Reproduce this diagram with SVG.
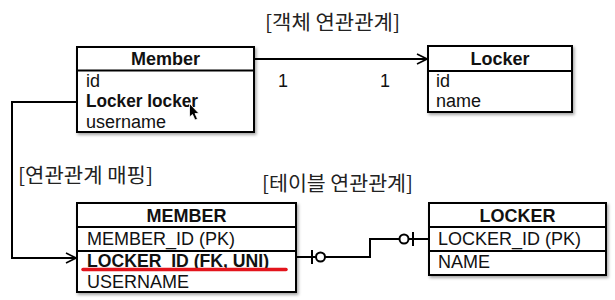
<svg xmlns="http://www.w3.org/2000/svg" width="615" height="300" viewBox="0 0 615 300">
<defs>
<filter id="sh" x="-10%" y="-10%" width="130%" height="130%">
<feDropShadow dx="1.5" dy="2" stdDeviation="1.5" flood-color="#000" flood-opacity="0.35"/>
</filter>
<marker id="open" viewBox="0 0 12 12" refX="11" refY="6" markerWidth="12" markerHeight="12" markerUnits="userSpaceOnUse" orient="auto">
<path d="M1,1 L11,6 L1,11" fill="none" stroke="#000" stroke-width="1.6"/>
</marker>
</defs>
<style>
.box{fill:#fff;stroke:#000;stroke-width:2;}
.sep{stroke:#000;stroke-width:2;}
.t{font-family:"Liberation Sans",Arial,sans-serif;font-size:18px;fill:#111;}
.b{font-weight:bold;}
.h{text-anchor:middle;}
.k{font-family:"Noto Sans CJK KR","Liberation Sans",sans-serif;font-size:20px;fill:#222;}
.c{fill:none;stroke:#000;stroke-width:2;}
</style>
<rect width="615" height="300" fill="#fff"/>

<text class="k" x="265" y="30" textLength="135" lengthAdjust="spacingAndGlyphs">[객체 연관관계]</text>
<text class="k" x="18" y="183" textLength="135" lengthAdjust="spacingAndGlyphs">[연관관계 매핑]</text>
<text class="k" x="262" y="191" textLength="151" lengthAdjust="spacingAndGlyphs">[테이블 연관관계]</text>

<g id="connectors">
<path class="c" d="M254,59 H427" marker-end="url(#open)"/>
<text class="t" x="278" y="87">1</text>
<text class="t" x="380" y="87">1</text>
<path class="c" d="M77,102 H12 V258 H76" marker-end="url(#open)"/>
<path class="c" d="M296,257 H370 V239 H429"/>
<line class="c" x1="312" y1="250" x2="312" y2="264"/>
<circle cx="320.5" cy="257" r="4.5" fill="#fff" stroke="#000" stroke-width="2"/>
<circle cx="404" cy="239" r="4.5" fill="#fff" stroke="#000" stroke-width="2"/>
<line class="c" x1="413" y1="232" x2="413" y2="246"/>
</g>

<g id="Member">
<rect class="box" x="77" y="47" width="177" height="85" filter="url(#sh)"/>
<line class="sep" x1="77" y1="70.5" x2="254" y2="70.5"/>
<text class="t b h" x="165.5" y="65">Member</text>
<text class="t" x="86" y="87">id</text>
<text class="t b" x="86" y="107" textLength="112" lengthAdjust="spacingAndGlyphs">Locker locker</text>
<text class="t" x="86" y="128">username</text>
<path d="M189.5,103.5 L189.5,117 L192.5,114.5 L195,120 L197.5,119 L195,113.5 L199,113.5 Z" fill="#000" stroke="#fff" stroke-width="0.8"/>
</g>

<g id="Locker">
<rect class="box" x="428" y="46" width="144" height="66" filter="url(#sh)"/>
<line class="sep" x1="428" y1="71" x2="572" y2="71"/>
<text class="t b h" x="500" y="65">Locker</text>
<text class="t" x="436" y="87">id</text>
<text class="t" x="436" y="107">name</text>
</g>

<g id="MEMBER">
<rect class="box" x="77" y="203" width="219" height="89" filter="url(#sh)"/>
<line class="sep" x1="77" y1="227" x2="296" y2="227"/>
<line class="sep" x1="77" y1="251" x2="296" y2="251"/>
<text class="t b h" x="186.5" y="222">MEMBER</text>
<text class="t" x="87" y="245">MEMBER_ID (PK)</text>
<text class="t b" x="87" y="267" textLength="182" lengthAdjust="spacingAndGlyphs">LOCKER_ID (FK, UNI)</text>
<text class="t" x="87" y="288">USERNAME</text>
<line x1="83" y1="269.5" x2="286" y2="269.5" stroke="#e3141c" stroke-width="3.5" stroke-linecap="round"/>
</g>

<g id="LOCKER">
<rect class="box" x="429" y="203" width="177" height="72" filter="url(#sh)"/>
<line class="sep" x1="429" y1="227" x2="606" y2="227"/>
<line class="sep" x1="429" y1="251" x2="606" y2="251"/>
<text class="t b h" x="517.5" y="222">LOCKER</text>
<text class="t" x="438" y="245">LOCKER_ID (PK)</text>
<text class="t" x="438" y="268">NAME</text>
</g>
</svg>
